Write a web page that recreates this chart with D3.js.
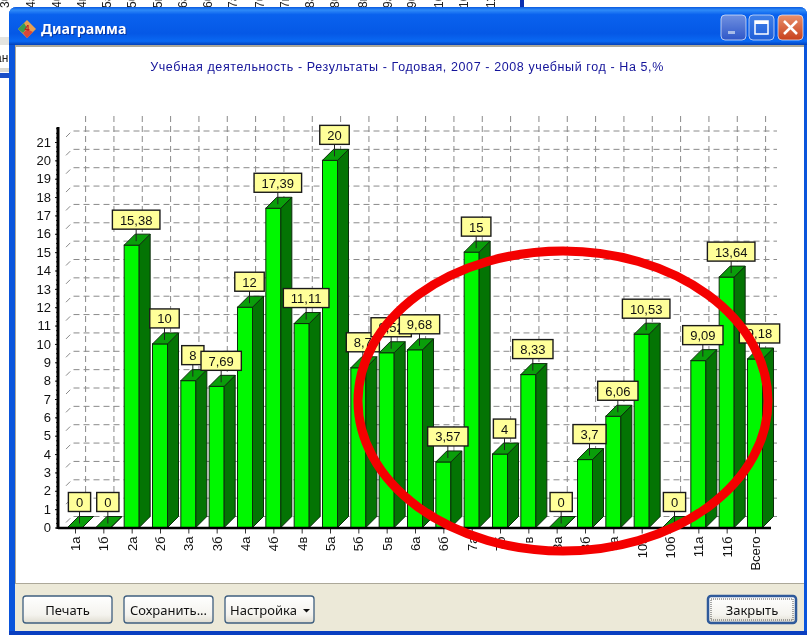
<!DOCTYPE html>
<html>
<head>
<meta charset="utf-8">
<script src="https://cdn.jsdelivr.net/npm/d3@7"></script>
<style>
    html, body { margin: 0; padding: 0; background: #fff; overflow: hidden; }
    svg { display: block; filter: blur(0.35px); }
    .lat { font-family: "Liberation Sans", Arial, sans-serif; }
    .ui { font-family: "Noto Sans", sans-serif; }
</style>
</head>
<body>
<svg id="chart" width="808" height="635"></svg>
<script>
    const categories = ['1а', '1б', '2а', '2б', '3а', '3б', '4а', '4б', '4в', '5а', '5б', '5в', '6а',
        '6б', '7а', '7б', '7в', '8а', '8б', '9а', '10а', '10б', '11а', '11б', 'Всего'];
    const values = [0, 0, 15.38, 10, 8, 7.69, 12, 17.39, 11.11, 20, 8.7, 9.52, 9.68,
        3.57, 15, 4, 8.33, 0, 3.7, 6.06, 10.53, 0, 9.09, 13.64, 9.18];
    const yTicks = d3.range(0, 22);
    const chartTitle = 'Учебная деятельность - Результаты - Годовая, 2007 - 2008 учебный год - На 5,%';
    const windowTitle = 'Диаграмма';
    const behindLabels = ['3б', '4а', '4б', '4в', '5а', '5б', '5в', '6а', '6б', '7а', '7б', '7в',
        '8а', '8б', '8в', '9а', '9б', '10а', '10б', '11'];
    const behindX = [5, 31, 57, 82, 107, 132, 158, 183, 208, 233, 260, 285, 310, 335, 363, 388, 412, 439, 464, 491];

    const svg = d3.select('#chart');
    const defs = svg.append('defs');

    function gradient(id, stops) {
        const g = defs.append('linearGradient').attr('id', id)
            .attr('x1', 0).attr('y1', 0).attr('x2', 0).attr('y2', 1);
        stops.forEach(s => g.append('stop').attr('offset', s[0]).attr('stop-color', s[1]));
    }
    gradient('titleGrad', [[0, '#0a5ae0'], [0.08, '#2f8bf8'], [0.2, '#0a62ee'], [0.7, '#0558e6'], [0.9, '#0a68f2'], [1, '#0340b8']]);
    gradient('btnGrad', [[0, '#ffffff'], [0.7, '#f4f3ee'], [1, '#dfdcd0']]);
    gradient('minGrad', [[0, '#6f90e0'], [1, '#2f57c8']]);
    gradient('maxGrad', [[0, '#3f7fe8'], [1, '#1f5fd8']]);
    gradient('closeGrad', [[0, '#e8906c'], [1, '#c8401c']]);

    // stuff of the window behind
    svg.append('g').selectAll('text').data(behindLabels).join('text')
        .attr('class', 'lat')
        .attr('transform', (d, i) => `translate(${behindX[i] + 4},8) rotate(-90)`)
        .attr('font-size', 12).attr('fill', '#222')
        .text(d => d);
    svg.append('rect').attr('x', 520).attr('y', 0).attr('width', 4).attr('height', 8).attr('fill', '#0a2fb0');
    svg.append('rect').attr('x', 0).attr('y', 37).attr('width', 10).attr('height', 8).attr('fill', '#e4e4e0');
    svg.append('rect').attr('x', 0).attr('y', 68).attr('width', 10).attr('height', 4).attr('fill', '#d8d8d2');
    svg.append('rect').attr('x', 0).attr('y', 73).attr('width', 10).attr('height', 5).attr('fill', '#1a4fc8');
    svg.append('text').attr('class', 'lat').attr('x', -5).attr('y', 62).attr('font-size', 12).attr('fill', '#222').text('ан');

    // window frame
    svg.append('path')
        .attr('d', 'M9,635 V15 Q9,7 17,7 H799 Q807,7 807,15 V635 Z')
        .attr('fill', '#0a55dc');
    svg.append('path')
        .attr('d', 'M9,45 V15 Q9,7 17,7 H799 Q807,7 807,15 V45 Z')
        .attr('fill', 'url(#titleGrad)');
    svg.append('rect').attr('x', 15).attr('y', 45).attr('width', 789).attr('height', 586).attr('fill', '#aca899');
    svg.append('rect').attr('x', 16).attr('y', 47).attr('width', 788).attr('height', 536).attr('fill', '#fff');
    svg.append('rect').attr('x', 15).attr('y', 584).attr('width', 789).attr('height', 47).attr('fill', '#ece9d8');
    svg.append('rect').attr('x', 9).attr('y', 631).attr('width', 798).attr('height', 4).attr('fill', '#0a3fc0');

    // title bar
    const icon = svg.append('g').attr('transform', 'translate(27,29)');
    icon.append('path').attr('d', 'M-9,0 L0,-9 L9,0 L0,9 Z').attr('fill', '#e8a050');
    icon.append('path').attr('d', 'M-9,0 L-3,-6 L0,-1 L-4,4 Z').attr('fill', '#3c9c50');
    icon.append('path').attr('d', 'M-4,4 L0,9 L6,3 L0,0 Z').attr('fill', '#d84838');
    icon.append('text').attr('class', 'lat').attr('x', 0).attr('y', 2).attr('text-anchor', 'middle')
        .attr('font-size', 9).attr('font-weight', 'bold').attr('fill', '#c02020').text('4');
    svg.append('text').attr('class', 'ui').attr('x', 41).attr('y', 34)
        .attr('font-size', 14.2).attr('font-weight', 'bold').attr('fill', '#0a2f90')
        .attr('dx', 1).attr('dy', 1).attr('opacity', 0.8).text(windowTitle);
    svg.append('text').attr('class', 'ui').attr('x', 41).attr('y', 34)
        .attr('font-size', 14.2).attr('font-weight', 'bold').attr('fill', '#fff').text(windowTitle);

    // window buttons
    function winButton(x, fill) {
        return svg.append('rect').attr('x', x).attr('y', 15).attr('width', 25).attr('height', 25).attr('rx', 4)
            .attr('fill', fill).attr('stroke', '#dfe8fa').attr('stroke-opacity', 0.75);
    }
    winButton(721, 'url(#minGrad)');
    winButton(749, 'url(#maxGrad)');
    winButton(778, 'url(#closeGrad)');
    svg.append('rect').attr('x', 728).attr('y', 31).attr('width', 7).attr('height', 3).attr('fill', '#a8bce8');
    svg.append('rect').attr('x', 755).attr('y', 21).attr('width', 13).attr('height', 13)
        .attr('fill', 'none').attr('stroke', '#fff').attr('stroke-width', 1.5);
    svg.append('rect').attr('x', 755).attr('y', 21).attr('width', 13).attr('height', 3).attr('fill', '#fff');
    svg.append('path').attr('d', 'M784,21 L797,34 M797,21 L784,34')
        .attr('stroke', '#fff').attr('stroke-width', 2.5);

    svg.append('text').attr('class', 'lat').attr('x', 407).attr('y', 71)
        .attr('text-anchor', 'middle').attr('font-size', 12.5).attr('letter-spacing', 0.6)
        .attr('fill', '#14149a').text(chartTitle);

    // scales
    const x = d3.scalePoint().domain(categories).range([75, 755]);
    const y = d3.scaleLinear().domain([0, 21]).range([527.5, 142]);
    const depthX = 11, depthY = 11;

    // back wall grid
    const grid = svg.append('g').attr('fill', 'none').attr('stroke', '#8a8a8a').attr('stroke-dasharray', '6 4');
    grid.selectAll('path.h').data(yTicks).join('path').attr('class', 'h')
        .attr('d', d => `M66,${y(d) - 5} L${58 + 14},${y(d) - depthY} H777`);
    grid.selectAll('line.v').data(categories).join('line').attr('class', 'v')
        .attr('x1', d => x(d) + depthX - 0.4).attr('x2', d => x(d) + depthX - 0.4)
        .attr('y1', 116).attr('y2', y(0) - depthY);

    // bars
    const bars = svg.append('g').selectAll('g').data(categories).join('g').attr('stroke', '#0c2c0c').attr('stroke-width', 1);
    bars.append('rect')
        .attr('x', d => x(d) - 7.5).attr('width', 15)
        .attr('y', (d, i) => y(values[i])).attr('height', (d, i) => y(0) - y(values[i]))
        .attr('fill', '#00f800');
    bars.append('path')
        .attr('d', (d, i) => {
            const r = x(d) + 7.5;
            return `M${r},${y(0)} L${r + depthX},${y(0) - depthY} V${y(values[i]) - depthY} L${r},${y(values[i])} Z`;
        })
        .attr('fill', '#047404');
    bars.append('path')
        .attr('d', (d, i) => {
            const l = x(d) - 7.5, t = y(values[i]);
            return `M${l},${t} L${l + depthX},${t - depthY} H${l + 15 + depthX} L${l + 15},${t} Z`;
        })
        .attr('fill', '#0a9e0a');

    // axes
    const yAxis = svg.append('g').attr('transform', 'translate(58,0)').attr('class', 'lat')
        .call(d3.axisLeft(y).tickValues(yTicks).tickSize(3).tickPadding(4).tickFormat(d3.format('d')));
    yAxis.select('.domain').remove();
    yAxis.selectAll('text').attr('font-size', 13).attr('fill', '#111').attr('font-family', '"Liberation Sans", sans-serif');
    yAxis.selectAll('line').attr('stroke', '#111');
    svg.append('g').attr('transform', 'translate(58,0)')
        .call(d3.axisLeft(y).tickValues(d3.range(0, 21.8, 0.25)).tickSize(2).tickFormat(''))
        .call(g => g.select('.domain').remove())
        .selectAll('line').attr('stroke', '#222');
    svg.append('line').attr('x1', 58).attr('x2', 58).attr('y1', 127).attr('y2', y(0) + 1.5)
        .attr('stroke', '#000').attr('stroke-width', 3);

    const xAxis = svg.append('g').attr('transform', `translate(0,${y(0)})`)
        .call(d3.axisBottom(x).tickSize(6).tickSizeOuter(0));
    xAxis.select('.domain').remove();
    xAxis.selectAll('line').attr('stroke', '#333');
    xAxis.selectAll('text')
        .attr('font-family', '"Liberation Sans", sans-serif').attr('font-size', 13).attr('fill', '#111')
        .attr('text-anchor', 'end').attr('transform', 'rotate(-90)')
        .attr('x', -9).attr('y', 0).attr('dy', '0.34em');
    svg.append('line').attr('x1', 58).attr('x2', 771).attr('y1', y(0) + 0.5).attr('y2', y(0) + 0.5)
        .attr('stroke', '#000').attr('stroke-width', 2.5);

    // value labels, later ones lie over the earlier ones
    const labels = svg.append('g').selectAll('g').data(categories).join('g').attr('class', 'lat');
    labels.append('line')
        .attr('x1', d => x(d) + 4.5).attr('x2', d => x(d) + 4.5)
        .attr('y1', (d, i) => y(values[i]) - 16).attr('y2', (d, i) => y(values[i]) - 4)
        .attr('stroke', '#222');
    labels.append('rect').attr('fill', '#ffff99').attr('stroke', '#1a1a1a').attr('stroke-width', 1.4);
    labels.append('text')
        .attr('x', d => x(d) + 4.5).attr('y', (d, i) => y(values[i]) - 20.5)
        .attr('text-anchor', 'middle').attr('font-size', 13).attr('fill', '#111')
        .text((d, i) => String(values[i]).replace('.', ','));
    labels.each(function (d, i) {
        const g = d3.select(this);
        const w = g.select('text').node().getComputedTextLength() + 15;
        g.select('rect')
            .attr('x', x(d) + 4.5 - w / 2).attr('width', w)
            .attr('y', y(values[i]) - 35).attr('height', 19);
    });

    // red mark drawn over the picture
    svg.append('ellipse').attr('cx', 563).attr('cy', 401).attr('rx', 205).attr('ry', 150)
        .attr('fill', 'none').attr('stroke', '#f40000').attr('stroke-width', 9);

    // bottom buttons
    const buttons = [
        { name: 'Печать', x: 23, w: 89 },
        { name: 'Сохранить...', x: 124, w: 89 },
        { name: 'Настройка', x: 225, w: 89 },
        { name: 'Закрыть', x: 708, w: 88 }
    ];
    const btn = svg.append('g').selectAll('g').data(buttons).join('g');
    btn.append('rect')
        .attr('x', d => d.x).attr('y', 596).attr('width', d => d.w).attr('height', 27).attr('rx', 3)
        .attr('fill', 'url(#btnGrad)')
        .attr('stroke', d => d.name === 'Закрыть' ? '#2f5a9a' : '#3f5f7f')
        .attr('stroke-width', d => d.name === 'Закрыть' ? 2.5 : 1.3);
    btn.append('text').attr('class', 'ui')
        .attr('x', d => d.name === 'Настройка' ? d.x + 5 : d.x + d.w / 2)
        .attr('y', 615)
        .attr('text-anchor', d => d.name === 'Настройка' ? 'start' : 'middle')
        .attr('font-size', 13).attr('fill', '#111')
        .text(d => d.name);
    svg.append('rect').attr('x', 711).attr('y', 599).attr('width', 82).attr('height', 21)
        .attr('fill', 'none').attr('stroke', '#555').attr('stroke-dasharray', '1 1');
    svg.append('path').attr('d', 'M303,609 h7 l-3.5,3.5 Z').attr('fill', '#111');
</script>
</body>
</html>
